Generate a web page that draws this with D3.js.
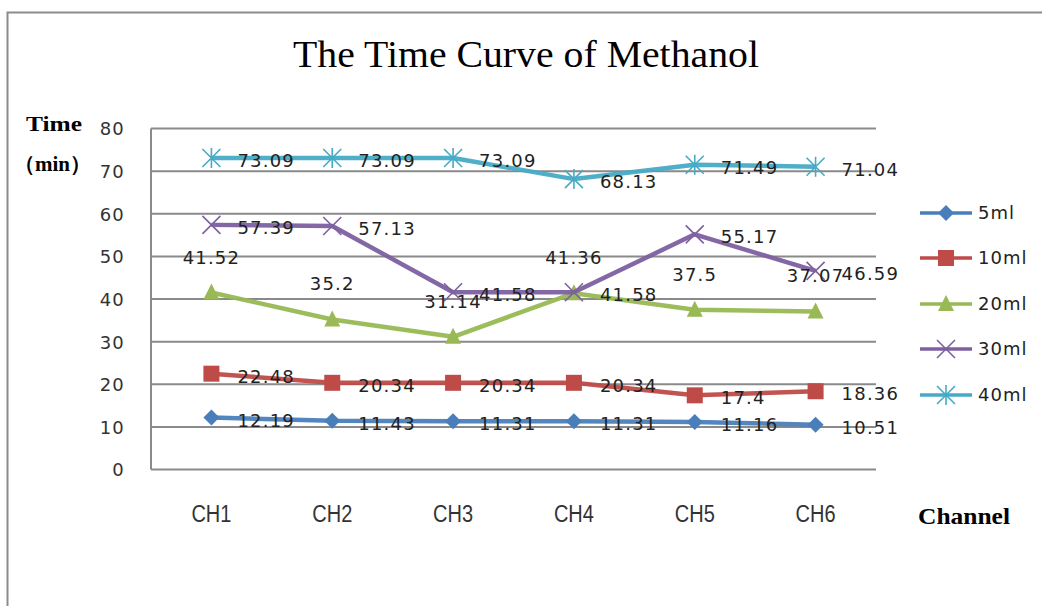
<!DOCTYPE html>
<html><head><meta charset="utf-8">
<script src="https://cdn.jsdelivr.net/npm/d3@7"></script>
<style>body{margin:0;background:#fff}svg{display:block}</style>
</head><body><svg id="c" width="1042" height="606"></svg>
<script>
const categories = ["CH1","CH2","CH3","CH4","CH5","CH6"];
const seriesNames = ["5ml","10ml","20ml","30ml","40ml"];
const v5ml  = [12.19, 11.43, 11.31, 11.31, 11.16, 10.51];
const v10ml = [22.48, 20.34, 20.34, 20.34, 17.4, 18.36];
const v20ml = [41.52, 35.2, 31.14, 41.36, 37.5, 37.07];
const v30ml = [57.39, 57.13, 41.58, 41.58, 55.17, 46.59];
const v40ml = [73.09, 73.09, 73.09, 68.13, 71.49, 71.04];
const yTicks = [0,10,20,30,40,50,60,70,80];
const title = "The Time Curve of Methanol";

const colors = ["#4A7EBB","#BE4B48","#98B954","#7D60A0","#46AAC5"];
const markers = ["diamond","square","triangle","x","star"];
const labelPos = ["right","right","above","right","right"];
const values = [v5ml, v10ml, v20ml, v30ml, v40ml];

const svg = d3.select("#c");
// outer frame
svg.append("rect").attr("x",7.5).attr("y",12.5).attr("width",1200).attr("height",800)
  .attr("fill","none").attr("stroke","#8c8c8c").attr("stroke-width",2);

const L=151, R=876, T=128.5, B=469.5;
const x = d3.scaleBand().domain(categories).range([L,R]);
const y = d3.scaleLinear().domain([0,80]).range([B,T]);

// gridlines
svg.append("g").selectAll("line").data(yTicks.filter(d=>d>0)).join("line")
  .attr("x1",L).attr("x2",R).attr("y1",d=>y(d)).attr("y2",d=>y(d))
  .attr("stroke","#8a8a8a").attr("stroke-width",2);
// axes lines
svg.append("line").attr("x1",L).attr("x2",L).attr("y1",T).attr("y2",B).attr("stroke","#8a8a8a").attr("stroke-width",2);
svg.append("line").attr("x1",L).attr("x2",R).attr("y1",B).attr("y2",B).attr("stroke","#8a8a8a").attr("stroke-width",2);

// y tick labels
const yAxis = d3.axisLeft(y).tickValues(yTicks).tickSize(0).tickPadding(0);
const gy = svg.append("g").attr("transform",`translate(125,0)`).call(yAxis);
gy.select(".domain").remove();
gy.selectAll("text").attr("font-family","DejaVu Sans").attr("font-size",18)
  .attr("letter-spacing","1.2px").attr("fill","#333").attr("dy","0.36em");

// x labels
const xAxis = d3.axisBottom(x).tickSize(0).tickPadding(0);
const gx = svg.append("g").attr("transform",`translate(0,522)`).call(xAxis);
gx.select(".domain").remove();
gx.selectAll("text").attr("font-family","Liberation Sans").attr("font-size",23)
  .attr("fill","#333").attr("textLength",40).attr("lengthAdjust","spacingAndGlyphs").attr("dy","0");

// title
svg.append("text").attr("x",526).attr("y",67).attr("text-anchor","middle")
  .attr("font-family","Liberation Serif").attr("font-size",37).attr("fill","#000")
  .attr("textLength",466).attr("lengthAdjust","spacingAndGlyphs").text(title);
// axis titles
svg.append("text").attr("x",26).attr("y",131).attr("font-family","Liberation Serif").attr("font-weight","bold")
  .attr("font-size",21).attr("textLength",56).attr("lengthAdjust","spacingAndGlyphs").text("Time");
svg.append("text").attr("x",14).attr("y",171).attr("font-family","Liberation Serif").attr("font-weight","bold")
  .attr("font-size",21).attr("textLength",77).attr("lengthAdjust","spacingAndGlyphs").text("（min）");
svg.append("text").attr("x",918).attr("y",524).attr("font-family","Liberation Serif").attr("font-weight","bold")
  .attr("font-size",23).attr("textLength",92).attr("lengthAdjust","spacingAndGlyphs").text("Channel");

function drawMarker(g, type, color){
  if(type==="diamond"){
    g.append("path").attr("d","M0,-8L8,0L0,8L-8,0Z").attr("fill",color);
  } else if(type==="square"){
    g.append("rect").attr("x",-8).attr("y",-8).attr("width",16).attr("height",16).attr("fill",color);
  } else if(type==="triangle"){
    g.append("path").attr("d","M0,-9L8,7L-8,7Z").attr("fill",color);
  } else if(type==="x"){
    g.append("path").attr("d","M-9,-9L9,9M-9,9L9,-9").attr("stroke",color).attr("stroke-width",1.6);
  } else {
    g.append("path").attr("d","M-9,-9L9,9M-9,9L9,-9M0,-10L0,10").attr("stroke",color).attr("stroke-width",1.6);
  }
}

const cx = c => x(c) + x.bandwidth()/2;
const line = d3.line().x((d,i)=>cx(categories[i])).y(d=>y(d));

values.forEach((vals,si)=>{
  const g = svg.append("g");
  g.append("path").datum(vals).attr("d",line).attr("fill","none")
    .attr("stroke",colors[si]).attr("stroke-width",4.5).attr("stroke-linejoin","round").attr("opacity",0.95);
  vals.forEach((v,i)=>{
    const mg = g.append("g").attr("transform",`translate(${cx(categories[i])},${y(v)})`);
    drawMarker(mg, markers[si], colors[si]);
  });
});
// labels on top
values.forEach((vals,si)=>{
  svg.append("g").selectAll("text").data(vals).join("text")
    .attr("x",(d,i)=> labelPos[si]==="above" ? cx(categories[i]) : cx(categories[i])+26)
    .attr("y",d=> labelPos[si]==="above" ? y(d)-29 : y(d)+9)
    .attr("text-anchor", labelPos[si]==="above" ? "middle":"start")
    .attr("font-family","DejaVu Sans").attr("font-size",18).attr("letter-spacing","1.2px")
    .attr("fill","#222").text(d=>d);
});

// legend
const legY = [213,258,304,349,395];
seriesNames.forEach((n,si)=>{
  const g = svg.append("g").attr("transform",`translate(0,${legY[si]})`);
  g.append("line").attr("x1",920).attr("x2",972).attr("stroke",colors[si]).attr("stroke-width",3.5);
  const mg = g.append("g").attr("transform","translate(946,0)");
  drawMarker(mg, markers[si], colors[si]);
  g.append("text").attr("x",978).attr("y",6).attr("font-family","DejaVu Sans").attr("font-size",18)
    .attr("letter-spacing","1px").attr("fill","#222").text(n);
});
</script></body></html>
